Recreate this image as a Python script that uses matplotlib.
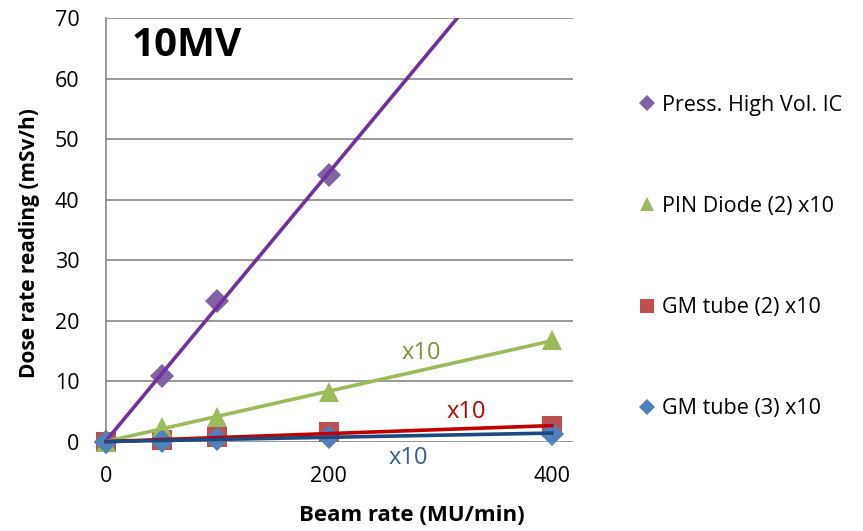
"""
Dose rate reading versus beam rate for several detectors at 10MV.
"""

import numpy as np
import matplotlib
matplotlib.use("Agg")
import matplotlib.pyplot as plt

plt.rcParams["font.family"] = ["Open Sans", "DejaVu Sans"]

# -----------------------------------------------------------------------------
# Data (beam rate in MU/min, readings in mSv/h; small detectors scaled x10)
# -----------------------------------------------------------------------------
ic_rate = [0, 50, 100, 200]
ic_dose = [0, 10.9, 23.3, 44.1]

pin_rate = [0, 50, 100, 200, 400]
pin_dose = [0, 2.5, 4.1, 8.2, 16.8]

gm2_rate = [0, 50, 100, 200, 400]
gm2_dose = [0, 0.3, 0.8, 1.6, 2.6]

gm3_rate = [0, 50, 100, 200, 400]
gm3_dose = [0, 0.2, 0.5, 0.9, 1.4]

series_labels = ["Press. High Vol. IC", "PIN Diode (2) x10",
                 "GM tube (2) x10", "GM tube (3) x10"]

X_MAX = 419
Y_MAX = 70


def trend(x, y, x_end):
    """Least-squares line evaluated from 0 to x_end."""
    slope, intercept = np.polyfit(x, y, 1)
    xs = np.array([0.0, x_end])
    return xs, slope * xs + intercept


fig = plt.figure(figsize=(8.63, 5.31), dpi=100)
ax = fig.add_axes([106 / 863, 1 - 442 / 531, 467 / 863, 424 / 531])

# markers (legend entries)
h_ic, = ax.plot(ic_rate, ic_dose, "D", color="#8064A2", ms=12, mew=0,
                clip_on=False, zorder=3, label=series_labels[0])
h_pin, = ax.plot(pin_rate, pin_dose, "^", color="#9BBB59", ms=14, mew=0,
                 clip_on=False, zorder=3, label=series_labels[1])
h_gm3, = ax.plot(gm3_rate, gm3_dose, "D", color="#4F81BD", ms=12, mew=0,
                 clip_on=False, zorder=3, label=series_labels[3])
h_gm2, = ax.plot(gm2_rate, gm2_dose, "s", color="#C0504D", ms=14, mew=0,
                 clip_on=False, zorder=2.9, label=series_labels[2])

# trend lines
xs, ys = trend(ic_rate, ic_dose, 500)
ax.plot(xs, ys, color="#7030A0", lw=2.6, zorder=4)
xs, ys = trend(pin_rate, pin_dose, 400)
ax.plot(xs, ys, color="#9BBB59", lw=2.6, zorder=4)
xs, ys = trend(gm2_rate, gm2_dose, 400)
ax.plot(xs, ys, color="#C00000", lw=2.6, zorder=4, clip_on=False)
xs, ys = trend(gm3_rate, gm3_dose, 400)
ax.plot(xs, ys, color="#1F497D", lw=2.6, zorder=4, clip_on=False)

# scale notes next to each trend line
ax.text(283, 14.7, "x10", color="#77933C", fontsize=17, ha="center", va="center")
ax.text(323, 5.0, "x10", color="#C00000", fontsize=17, ha="center", va="center")
ax.text(271, -2.6, "x10", color="#376092", fontsize=17, ha="center", va="center")

ax.text(0.055, 0.935, "10MV", transform=ax.transAxes, fontsize=29,
        fontweight="bold", ha="left", va="center")

ax.set_xlim(0, X_MAX)
ax.set_ylim(0, Y_MAX)
ax.set_xticks([0, 200, 400])
ax.set_yticks(range(0, 71, 10))
ax.tick_params(axis="both", labelsize=15.5, length=0)
ax.tick_params(axis="y", pad=19)
ax.tick_params(axis="x", pad=17)
ax.grid(axis="y", color="#868686", lw=1.2)
ax.set_axisbelow(True)
for side in ("top", "right", "bottom"):
    ax.spines[side].set_visible(False)
ax.spines["left"].set_color("#868686")
ax.spines["left"].set_linewidth(1.2)

ax.set_xlabel("Beam rate (MU/min)", fontsize=16, fontweight="bold", va="top")
ax.xaxis.set_label_coords(0.655, -0.148)
ax.set_ylabel("Dose rate reading (mSv/h)", fontsize=15, fontweight="bold")
ax.yaxis.set_label_coords(-0.141, 0.47)

leg_handles = [h_ic, h_pin, h_gm2, h_gm3]
leg = fig.legend(leg_handles, series_labels, loc="center left",
                 bbox_to_anchor=(619 / 863, 1 - 257 / 531), frameon=False,
                 fontsize=15.5, labelspacing=3.72, handlelength=0.8,
                 handletextpad=0.3, markerscale=0.7)

fig.savefig("out.png", dpi=100)
